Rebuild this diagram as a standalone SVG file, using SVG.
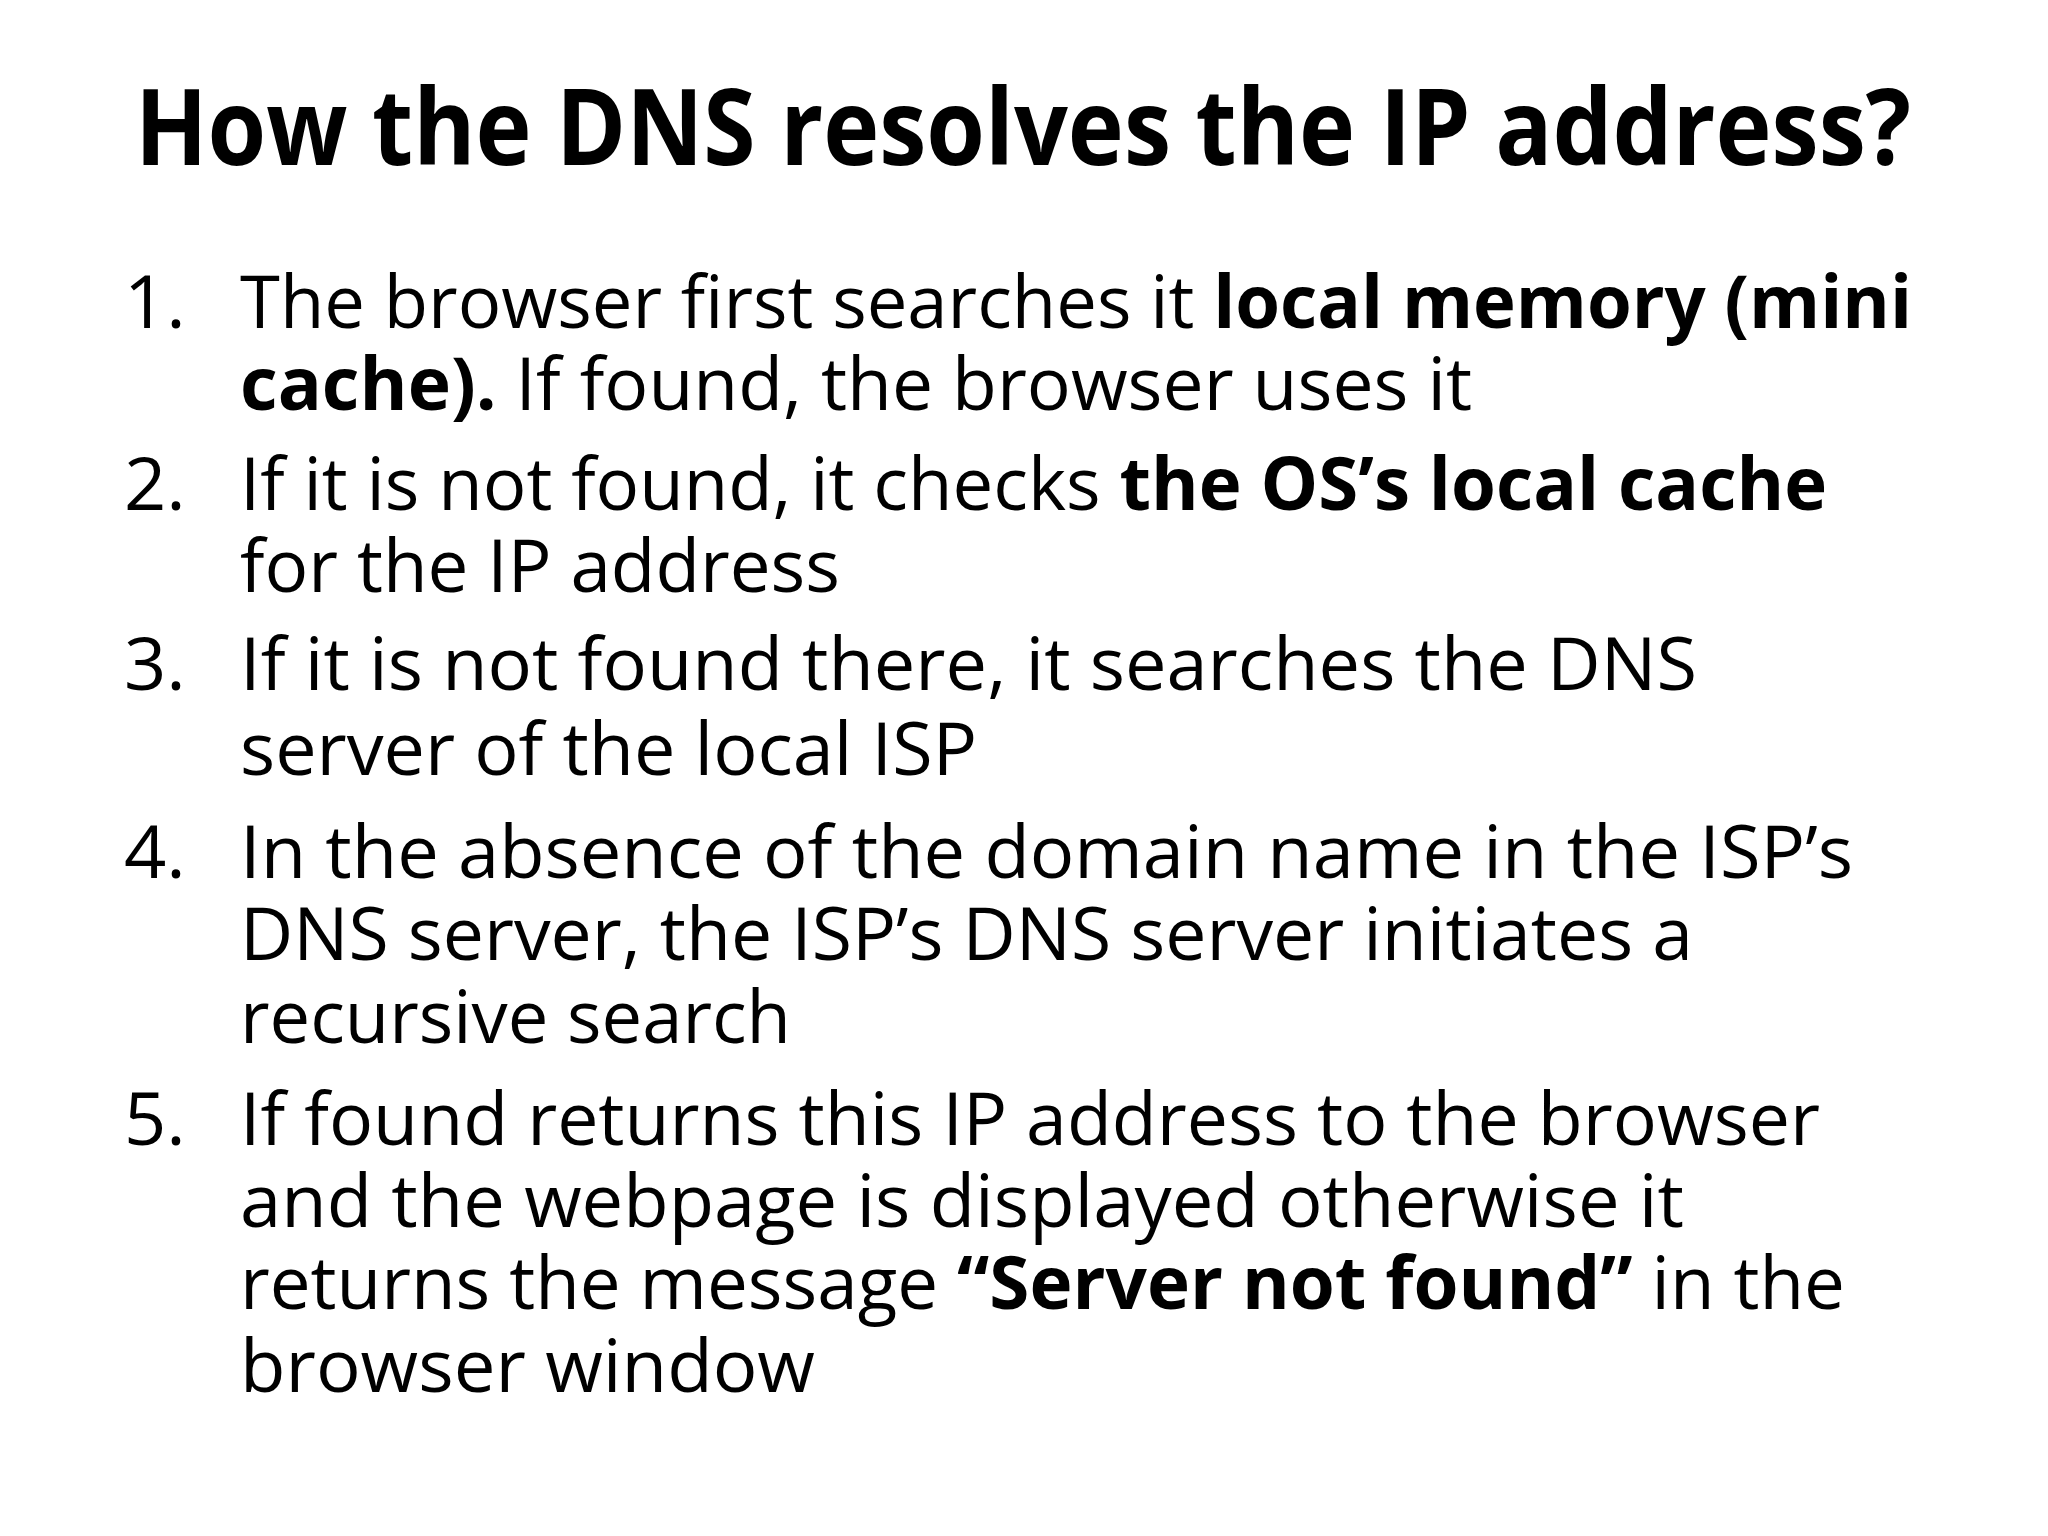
<svg xmlns="http://www.w3.org/2000/svg" width="2048" height="1536" viewBox="0 0 2048 1536">
<style>
text{font-family:"Open Sans","Noto Sans","Liberation Sans",sans-serif;fill:#000}
.t{font-size:106px;font-weight:bold}
.b{font-size:74px}
.k{font-weight:bold}
</style>
<rect width="2048" height="1536" fill="#fff"/>
<g id="title"><text class="t" x="135" y="165" textLength="1776" lengthAdjust="spacingAndGlyphs">How the DNS resolves the IP address?</text></g>
<g id="list">
<text class="b" x="124" y="328">1.</text>
<text class="b" x="240" y="328" textLength="1672" lengthAdjust="spacingAndGlyphs">The browser first searches it <tspan class="k">local memory (mini</tspan></text>
<text class="b" x="240" y="410" textLength="1232" lengthAdjust="spacingAndGlyphs"><tspan class="k">cache).</tspan> If found, the browser uses it</text>
<text class="b" x="124" y="510">2.</text>
<text class="b" x="240" y="510" textLength="1587" lengthAdjust="spacingAndGlyphs">If it is not found, it checks <tspan class="k">the OS’s local cache</tspan></text>
<text class="b" x="240" y="592" textLength="600" lengthAdjust="spacingAndGlyphs">for the IP address</text>
<text class="b" x="124" y="690">3.</text>
<text class="b" x="240" y="690" textLength="1457" lengthAdjust="spacingAndGlyphs">If it is not found there, it searches the DNS</text>
<text class="b" x="240" y="775" textLength="737" lengthAdjust="spacingAndGlyphs">server of the local ISP</text>
<text class="b" x="124" y="878">4.</text>
<text class="b" x="240" y="878" textLength="1613" lengthAdjust="spacingAndGlyphs">In the absence of the domain name in the ISP’s</text>
<text class="b" x="240" y="960" textLength="1453" lengthAdjust="spacingAndGlyphs">DNS server, the ISP’s DNS server initiates a</text>
<text class="b" x="240" y="1043" textLength="551" lengthAdjust="spacingAndGlyphs">recursive search</text>
<text class="b" x="124" y="1145">5.</text>
<text class="b" x="240" y="1145" textLength="1580" lengthAdjust="spacingAndGlyphs">If found returns this IP address to the browser</text>
<text class="b" x="240" y="1227" textLength="1444" lengthAdjust="spacingAndGlyphs">and the webpage is displayed otherwise it</text>
<text class="b" x="240" y="1309" textLength="1605" lengthAdjust="spacingAndGlyphs">returns the message <tspan class="k">“Server not found”</tspan> in the</text>
<text class="b" x="240" y="1392" textLength="575" lengthAdjust="spacingAndGlyphs">browser window</text>
</g>
</svg>
